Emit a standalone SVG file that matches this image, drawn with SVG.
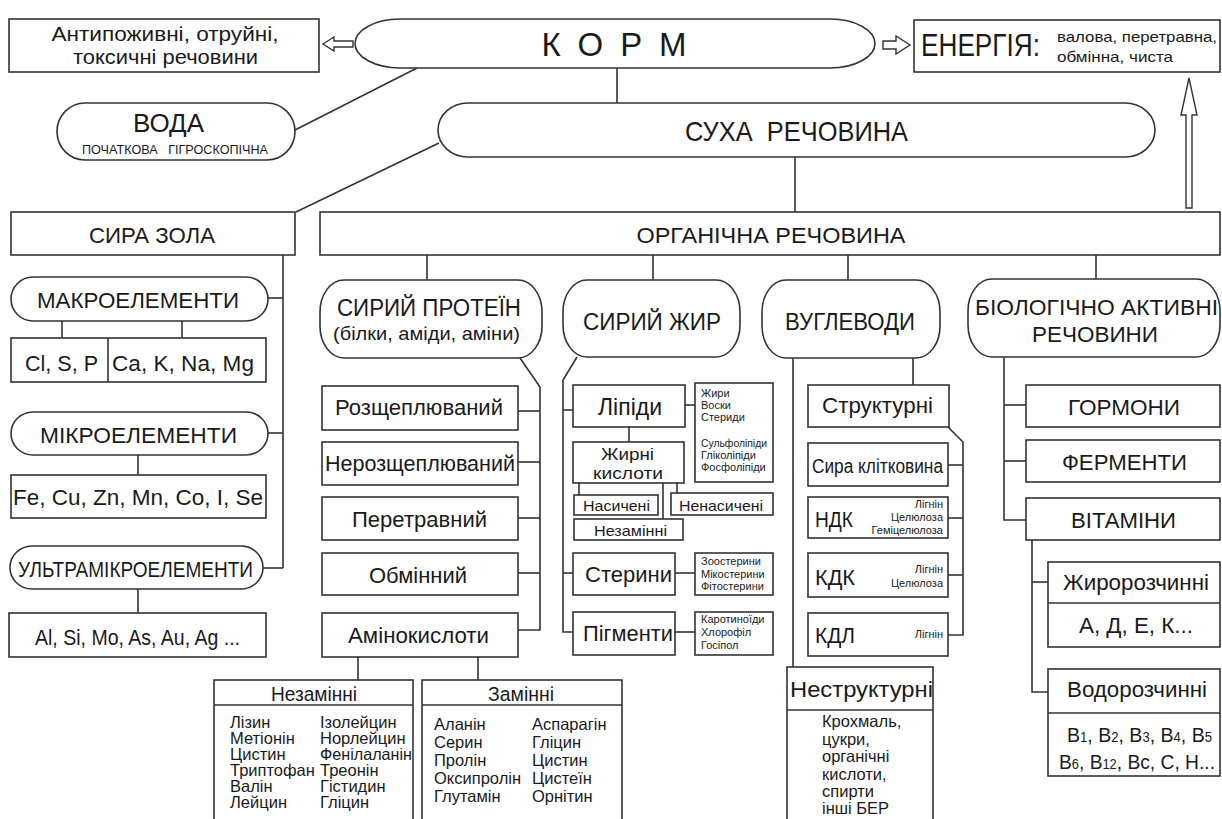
<svg xmlns="http://www.w3.org/2000/svg" width="1222" height="819" viewBox="0 0 1222 819">
<style>
.b{fill:#fff;stroke:#333;stroke-width:1.6}
.l{fill:none;stroke:#333;stroke-width:1.6}
.a{fill:#fff;stroke:#333;stroke-width:1.4}
text{font-family:"Liberation Sans",Arial,sans-serif;fill:#1a1a1a}
.c{text-anchor:middle}
.e{text-anchor:end}
.f22{font-size:22px}
.f20{font-size:20px}
.f16{font-size:16.5px}
.f15{font-size:15px}
.f11{font-size:11px}
</style>
<rect width="1222" height="819" fill="#fff"/>
<g id="connectors" class="l">
<line x1="295" y1="130" x2="417" y2="68"/>
<line x1="617" y1="68" x2="617" y2="103"/>
<line x1="439" y1="143" x2="296" y2="212"/>
<line x1="795" y1="157" x2="795" y2="212"/>
<line x1="283" y1="255" x2="283" y2="568"/>
<line x1="268" y1="298" x2="283" y2="298"/>
<line x1="268" y1="433" x2="283" y2="433"/>
<line x1="263" y1="568" x2="283" y2="568"/>
<line x1="62" y1="321" x2="62" y2="338"/>
<line x1="182" y1="321" x2="182" y2="338"/>
<line x1="138" y1="455" x2="138" y2="475"/>
<line x1="138" y1="589" x2="138" y2="613"/>
<line x1="427" y1="255" x2="427" y2="280"/>
<line x1="653" y1="255" x2="653" y2="280"/>
<line x1="848" y1="255" x2="848" y2="280"/>
<line x1="1096" y1="255" x2="1096" y2="279"/>
<polyline points="520,358 540,387 540,630 518,630"/>
<line x1="518" y1="411" x2="540" y2="411"/>
<line x1="518" y1="462" x2="540" y2="462"/>
<line x1="518" y1="518" x2="540" y2="518"/>
<line x1="518" y1="573" x2="540" y2="573"/>
<line x1="358" y1="657" x2="358" y2="680"/>
<line x1="478" y1="657" x2="478" y2="680"/>
<polyline points="577,357 563,380 563,632 573,632"/>
<line x1="563" y1="410" x2="573" y2="410"/>
<line x1="563" y1="573" x2="573" y2="573"/>
<line x1="685" y1="405" x2="695" y2="405"/>
<line x1="629" y1="427" x2="629" y2="442"/>
<line x1="579" y1="483" x2="579" y2="495"/>
<line x1="663" y1="483" x2="663" y2="519"/>
<line x1="677" y1="483" x2="677" y2="493"/>
<line x1="675" y1="573" x2="695" y2="573"/>
<line x1="675" y1="632" x2="695" y2="632"/>
<line x1="793" y1="358" x2="793" y2="667"/>
<line x1="913" y1="358" x2="913" y2="385"/>
<polyline points="948,427 963,442 963,635 948,635"/>
<line x1="948" y1="465" x2="963" y2="465"/>
<line x1="948" y1="518" x2="963" y2="518"/>
<line x1="948" y1="575" x2="963" y2="575"/>
<polyline points="1004,357 1004,520 1026,520"/>
<line x1="1004" y1="405" x2="1026" y2="405"/>
<line x1="1004" y1="461" x2="1026" y2="461"/>
<polyline points="1032,540 1032,692 1048,692"/>
<line x1="1032" y1="582" x2="1048" y2="582"/>
<polygon class="a" points="323,44 334,37 334,41 353,41 353,47 334,47 334,51"/>
<polygon class="a" points="883,41 896,41 896,36 910,45 896,54 896,49 883,49"/>
<polygon class="a" points="1189,78 1197,115 1192,115 1192,208 1186,208 1186,115 1181,115"/>
</g>
<g id="antinutrients">
<rect class="b" x="9" y="19" width="310" height="53"/>
<text class="c" x="165" y="41" font-size="20.5" textLength="227" lengthAdjust="spacingAndGlyphs">Антипоживні, отруйні,</text>
<text class="c" x="165.5" y="64" font-size="20.5" textLength="185" lengthAdjust="spacingAndGlyphs">токсичні речовини</text>
</g>
<g id="korm">
<path class="b" d="M400,19 H830 A45,24.5 0 0 1 830,68 H400 A45,24.5 0 0 1 400,19 Z"/>
<text class="c" x="614" y="56" font-size="33" textLength="145" lengthAdjust="spacing">К О Р М</text>
</g>
<g id="energy">
<rect class="b" x="914" y="20" width="306" height="52"/>
<text x="921" y="56" font-size="31" textLength="119" lengthAdjust="spacingAndGlyphs">ЕНЕРГІЯ:</text>
<text x="1057" y="42" font-size="15" textLength="160" lengthAdjust="spacingAndGlyphs">валова, перетравна,</text>
<text x="1057" y="62" font-size="15" textLength="116" lengthAdjust="spacingAndGlyphs">обмінна, чиста</text>
</g>
<g id="water">
<rect class="b" x="57" y="103" width="238" height="57" rx="28" ry="28.5"/>
<text class="c" x="168.5" y="132" font-size="25" textLength="71" lengthAdjust="spacingAndGlyphs">ВОДА</text>
<text class="c" x="175" y="154" font-size="12" textLength="186" lengthAdjust="spacingAndGlyphs">ПОЧАТКОВА&#160;&#160; ГІГРОСКОПІЧНА</text>
</g>
<g id="dry-matter">
<rect class="b" x="438" y="103" width="717" height="54" rx="30" ry="27"/>
<text class="c" x="796.5" y="141" font-size="28" textLength="223" lengthAdjust="spacingAndGlyphs">СУХА&#160; РЕЧОВИНА</text>
</g>
<g id="ash">
<rect class="b" x="11" y="212" width="284" height="43"/>
<text class="c f22" x="152" y="243" textLength="126" lengthAdjust="spacingAndGlyphs">СИРА ЗОЛА</text>
</g>
<g id="organic">
<rect class="b" x="320" y="212" width="900" height="43"/>
<text class="c f22" x="771" y="243" textLength="269" lengthAdjust="spacingAndGlyphs">ОРГАНІЧНА РЕЧОВИНА</text>
</g>
<g id="macro">
<rect class="b" x="11" y="277" width="257" height="44" rx="22" ry="22"/>
<text class="c f22" x="138" y="308" textLength="202" lengthAdjust="spacingAndGlyphs">МАКРОЕЛЕМЕНТИ</text>
</g>
<g id="macro-list">
<rect class="b" x="11" y="338" width="255" height="44"/>
<line class="l" x1="108" y1="338" x2="108" y2="382"/>
<text class="c f22" x="61.5" y="371" textLength="73" lengthAdjust="spacingAndGlyphs">Cl, S, P</text>
<text class="c f22" x="183" y="371" textLength="142" lengthAdjust="spacingAndGlyphs">Ca, K, Na, Mg</text>
</g>
<g id="micro">
<rect class="b" x="11" y="412" width="257" height="43" rx="22" ry="21.5"/>
<text class="c f22" x="138.5" y="443" textLength="197" lengthAdjust="spacingAndGlyphs">МІКРОЕЛЕМЕНТИ</text>
</g>
<g id="micro-list">
<rect class="b" x="11" y="475" width="255" height="43"/>
<text class="c f22" x="138" y="505" textLength="250" lengthAdjust="spacingAndGlyphs">Fe, Cu, Zn, Mn, Co, I, Se</text>
</g>
<g id="ultra">
<rect class="b" x="10" y="546" width="253" height="43" rx="22" ry="21.5"/>
<text class="c f22" x="135.5" y="577" textLength="235" lengthAdjust="spacingAndGlyphs">УЛЬТРАМІКРОЕЛЕМЕНТИ</text>
</g>
<g id="ultra-list">
<rect class="b" x="9" y="613" width="257" height="44"/>
<text class="c f22" x="137.5" y="645" textLength="205" lengthAdjust="spacingAndGlyphs">Al, Si, Mo, As, Au, Ag ...</text>
</g>
<g id="protein">
<rect class="b" x="320" y="280" width="222" height="78" rx="24" ry="32"/>
<text class="c" x="429" y="316" font-size="23" textLength="184" lengthAdjust="spacingAndGlyphs">СИРИЙ ПРОТЕЇН</text>
<text class="c" x="426.5" y="340" font-size="19" textLength="187" lengthAdjust="spacingAndGlyphs">(білки, аміди, аміни)</text>
</g>
<g id="rozshch">
<rect class="b" x="322" y="386" width="196" height="44"/>
<text class="c f22" x="419" y="415" textLength="168" lengthAdjust="spacingAndGlyphs">Розщеплюваний</text>
</g>
<g id="nerozshch">
<rect class="b" x="322" y="442" width="196" height="43"/>
<text class="c f22" x="420" y="471" textLength="190" lengthAdjust="spacingAndGlyphs">Нерозщеплюваний</text>
</g>
<g id="peretravnyi">
<rect class="b" x="322" y="497" width="196" height="43"/>
<text class="c f22" x="419.5" y="527" textLength="135" lengthAdjust="spacingAndGlyphs">Перетравний</text>
</g>
<g id="obminnyi">
<rect class="b" x="322" y="553" width="196" height="42"/>
<text class="c f22" x="418" y="583" textLength="98" lengthAdjust="spacingAndGlyphs">Обмінний</text>
</g>
<g id="aminoacids">
<rect class="b" x="322" y="613" width="196" height="44"/>
<text class="c f22" x="418.5" y="643" textLength="141" lengthAdjust="spacingAndGlyphs">Амінокислоти</text>
</g>
<g id="essential">
<rect class="b" x="214" y="680" width="199" height="140"/>
<line class="l" x1="214" y1="705" x2="413" y2="705"/>
<text class="c f20" x="314" y="701" textLength="86" lengthAdjust="spacingAndGlyphs">Незамінні</text>
<g class="f16">
<text x="230" y="728">Лізин</text>
<text x="230" y="744">Метіонін</text>
<text x="230" y="760">Цистин</text>
<text x="230" y="776">Триптофан</text>
<text x="230" y="792">Валін</text>
<text x="230" y="808">Лейцин</text>
<text x="320" y="728">Ізолейцин</text>
<text x="320" y="744">Норлейцин</text>
<text x="320" y="760" textLength="92" lengthAdjust="spacingAndGlyphs">Фенілаланін</text>
<text x="320" y="776">Треонін</text>
<text x="320" y="792">Гістидин</text>
<text x="320" y="808">Гліцин</text>
</g>
</g>
<g id="nonessential">
<rect class="b" x="422" y="680" width="200" height="140"/>
<line class="l" x1="422" y1="705" x2="622" y2="705"/>
<text class="c f20" x="521" y="701" textLength="66" lengthAdjust="spacingAndGlyphs">Замінні</text>
<g class="f16">
<text x="434" y="730">Аланін</text>
<text x="434" y="748">Серин</text>
<text x="434" y="766">Пролін</text>
<text x="434" y="784">Оксипролін</text>
<text x="434" y="802">Глутамін</text>
<text x="532" y="730">Аспарагін</text>
<text x="532" y="748">Гліцин</text>
<text x="532" y="766">Цистин</text>
<text x="532" y="784">Цистеїн</text>
<text x="532" y="802">Орнітин</text>
</g>
</g>
<g id="fat">
<rect class="b" x="563" y="280" width="177" height="77" rx="24" ry="32"/>
<text class="c" x="652" y="330" font-size="24" textLength="138" lengthAdjust="spacingAndGlyphs">СИРИЙ ЖИР</text>
</g>
<g id="lipids">
<rect class="b" x="573" y="385" width="112" height="42"/>
<text class="c" x="630" y="415" font-size="23" textLength="64" lengthAdjust="spacingAndGlyphs">Ліпіди</text>
</g>
<g id="lipids-list">
<rect class="b" x="695" y="383" width="78" height="99"/>
<g class="f11">
<text x="701" y="397">Жири</text>
<text x="701" y="409">Воски</text>
<text x="701" y="421">Стериди</text>
<text x="701" y="447" textLength="66" lengthAdjust="spacingAndGlyphs">Сульфоліпіди</text>
<text x="701" y="459">Гліколіпіди</text>
<text x="701" y="471">Фосфоліпіди</text>
</g>
</g>
<g id="fatty-acids">
<rect class="b" x="573" y="442" width="111" height="41"/>
<text class="c" x="627.5" y="460" font-size="17" textLength="53" lengthAdjust="spacingAndGlyphs">Жирні</text>
<text class="c" x="628" y="479" font-size="17" textLength="70" lengthAdjust="spacingAndGlyphs">кислоти</text>
</g>
<g id="saturated">
<rect class="b" x="574" y="495" width="84" height="20"/>
<text class="c f15" x="616.5" y="511" textLength="67" lengthAdjust="spacingAndGlyphs">Насичені</text>
</g>
<g id="unsaturated">
<rect class="b" x="671" y="493" width="102" height="22"/>
<text class="c f15" x="721" y="511" textLength="84" lengthAdjust="spacingAndGlyphs">Ненасичені</text>
</g>
<g id="fa-essential">
<rect class="b" x="574" y="519" width="109" height="21"/>
<text class="c f15" x="630.5" y="536" textLength="73" lengthAdjust="spacingAndGlyphs">Незамінні</text>
</g>
<g id="sterols">
<rect class="b" x="573" y="553" width="102" height="42"/>
<text class="c f22" x="628.5" y="582" textLength="87" lengthAdjust="spacingAndGlyphs">Стерини</text>
</g>
<g id="sterols-list">
<rect class="b" x="695" y="553" width="78" height="42"/>
<g class="f11">
<text x="701" y="565">Зоостерини</text>
<text x="701" y="578">Мікостерини</text>
<text x="701" y="590">Фітостерини</text>
</g>
</g>
<g id="pigments">
<rect class="b" x="573" y="612" width="102" height="43"/>
<text class="c f22" x="628" y="641" textLength="90" lengthAdjust="spacingAndGlyphs">Пігменти</text>
</g>
<g id="pigments-list">
<rect class="b" x="695" y="612" width="78" height="43"/>
<g class="f11">
<text x="701" y="623">Каротиноїди</text>
<text x="701" y="636">Хлорофіл</text>
<text x="701" y="649">Госіпол</text>
</g>
</g>
<g id="carbs">
<rect class="b" x="762" y="280" width="178" height="78" rx="24" ry="32"/>
<text class="c" x="850" y="330" font-size="24" textLength="130" lengthAdjust="spacingAndGlyphs">ВУГЛЕВОДИ</text>
</g>
<g id="structural">
<rect class="b" x="808" y="385" width="141" height="42"/>
<text class="c f22" x="877.5" y="413" textLength="111" lengthAdjust="spacingAndGlyphs">Структурні</text>
</g>
<g id="fibre">
<rect class="b" x="808" y="443" width="140" height="43"/>
<text class="c f20" x="877.5" y="473" textLength="131" lengthAdjust="spacingAndGlyphs">Сира клітковина</text>
</g>
<g id="ndf">
<rect class="b" x="808" y="497" width="140" height="41"/>
<text class="f22" x="815" y="527" textLength="38" lengthAdjust="spacingAndGlyphs">НДК</text>
<g class="f11 e">
<text x="943" y="508">Лігнін</text>
<text x="943" y="521">Целюлоза</text>
<text x="943" y="534">Геміцелюлоза</text>
</g>
</g>
<g id="adf">
<rect class="b" x="808" y="553" width="140" height="44"/>
<text class="f22" x="815" y="585" textLength="40" lengthAdjust="spacingAndGlyphs">КДК</text>
<g class="f11 e">
<text x="943" y="573">Лігнін</text>
<text x="943" y="587">Целюлоза</text>
</g>
</g>
<g id="adl">
<rect class="b" x="808" y="613" width="140" height="43"/>
<text class="f22" x="815" y="643" textLength="40" lengthAdjust="spacingAndGlyphs">КДЛ</text>
<text class="f11 e" x="943" y="638">Лігнін</text>
</g>
<g id="nonstructural">
<rect class="b" x="787" y="667" width="146" height="160"/>
<line class="l" x1="787" y1="710" x2="933" y2="710"/>
<text class="c f22" x="861.5" y="697" textLength="143" lengthAdjust="spacingAndGlyphs">Неструктурні</text>
<g class="f16">
<text x="822" y="727">Крохмаль,</text>
<text x="822" y="745">цукри,</text>
<text x="822" y="762">органічні</text>
<text x="822" y="780">кислоти,</text>
<text x="822" y="797">спирти</text>
<text x="822" y="814">інші БЕР</text>
</g>
</g>
<g id="bioactive">
<rect class="b" x="968" y="279" width="252" height="78" rx="24" ry="32"/>
<text class="c f22" x="1096.5" y="315" textLength="243" lengthAdjust="spacingAndGlyphs">БІОЛОГІЧНО АКТИВНІ</text>
<text class="c f22" x="1095" y="342" textLength="126" lengthAdjust="spacingAndGlyphs">РЕЧОВИНИ</text>
</g>
<g id="hormones">
<rect class="b" x="1026" y="385" width="194" height="42"/>
<text class="c f22" x="1124" y="415" textLength="112" lengthAdjust="spacingAndGlyphs">ГОРМОНИ</text>
</g>
<g id="enzymes">
<rect class="b" x="1026" y="440" width="194" height="42"/>
<text class="c f22" x="1124.5" y="470" textLength="125" lengthAdjust="spacingAndGlyphs">ФЕРМЕНТИ</text>
</g>
<g id="vitamins">
<rect class="b" x="1026" y="498" width="194" height="42"/>
<text class="c f22" x="1123.5" y="528" textLength="105" lengthAdjust="spacingAndGlyphs">ВІТАМІНИ</text>
</g>
<g id="fat-soluble">
<rect class="b" x="1048" y="562" width="172" height="85"/>
<line class="l" x1="1048" y1="603" x2="1220" y2="603"/>
<text class="c f22" x="1136" y="590" textLength="146" lengthAdjust="spacingAndGlyphs">Жиророзчинні</text>
<text class="c f22" x="1136" y="633" textLength="114" lengthAdjust="spacingAndGlyphs">А, Д, Е, К...</text>
</g>
<g id="water-soluble">
<rect class="b" x="1048" y="669" width="172" height="107"/>
<line class="l" x1="1048" y1="713" x2="1220" y2="713"/>
<text class="c f22" x="1137" y="697" textLength="140" lengthAdjust="spacingAndGlyphs">Водорозчинні</text>
<text x="1067" y="742" font-size="21" textLength="145" lengthAdjust="spacingAndGlyphs">B<tspan font-size="14">1</tspan>, B<tspan font-size="14">2</tspan>, B<tspan font-size="14">3</tspan>, B<tspan font-size="14">4</tspan>, B<tspan font-size="14">5</tspan></text>
<text x="1059" y="769" font-size="21" textLength="156" lengthAdjust="spacingAndGlyphs">B<tspan font-size="14">6</tspan>, B<tspan font-size="14">12</tspan>, Bc, C, H...</text>
</g>
</svg>
